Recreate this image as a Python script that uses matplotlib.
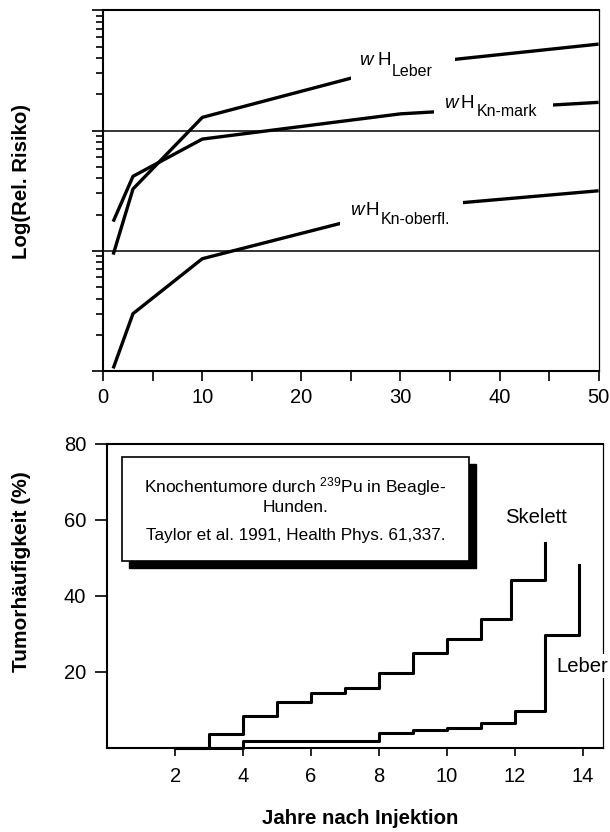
import matplotlib
matplotlib.use("Agg")
import matplotlib.pyplot as plt
from matplotlib.patches import Rectangle
from matplotlib.ticker import LogLocator, MultipleLocator, NullFormatter, FixedLocator

plt.rcParams["font.family"] = ["Liberation Sans", "DejaVu Sans"]
plt.rcParams["mathtext.fontset"] = "custom"
plt.rcParams["mathtext.rm"] = "Liberation Sans"
plt.rcParams["mathtext.it"] = "Liberation Sans:italic"

# top panel: relative risk vs. years (log axis)
years = [1, 3, 10, 30, 50]
risk_leber = [9.3, 32.7, 129, 351, 525]
risk_kn_mark = [17.5, 41.7, 85.1, 138, 172]
risk_kn_oberfl = [1.05, 3.0, 8.6, 22.7, 31.6]

# bottom panel: tumour frequency (%) steps
skelett_years = [2, 3, 4, 5, 6, 7, 8, 9, 10, 11, 11.9, 12.9]
skelett_pct = [0, 3.6, 8.5, 12.0, 14.4, 15.7, 19.7, 24.9, 28.7, 33.9, 44.2, 53.9]
leber_years = [2, 4, 8, 9, 10, 11, 12, 12.9, 13.9]
leber_pct = [0, 1.9, 3.9, 4.7, 5.3, 6.5, 9.7, 29.6, 48.2]

fig = plt.figure(figsize=(6.1, 8.32), dpi=100)

# ---------------- top panel ----------------
ax1 = fig.add_axes([0.1693, 0.5541, 0.812, 0.4333])
ax1.set_yscale("log")
ax1.set_ylim(1, 1000)
ax1.set_xlim(0, 50)

for ys in (risk_leber, risk_kn_mark, risk_kn_oberfl):
    ax1.plot(years, ys, color="black", lw=2.4, solid_capstyle="butt", zorder=3)

ax1.yaxis.set_major_locator(LogLocator(base=10, numticks=10))
ax1.yaxis.set_minor_locator(LogLocator(base=10, subs=range(2, 10), numticks=10))
ax1.yaxis.set_major_formatter(NullFormatter())
ax1.yaxis.set_minor_formatter(NullFormatter())
ax1.xaxis.set_major_locator(MultipleLocator(10))
ax1.xaxis.set_minor_locator(MultipleLocator(5))
ax1.tick_params(axis="y", which="major", direction="out", length=8, width=1.2)
ax1.tick_params(axis="y", which="minor", direction="out", length=5, width=1.2)
ax1.tick_params(axis="x", which="both", direction="out", length=7, width=1.2,
                labelsize=14.5, pad=5)
ax1.grid(True, which="major", axis="y", color="black", lw=1.1)
for side in ("left", "top", "bottom"):
    ax1.spines[side].set_linewidth(1.5)
ax1.spines["right"].set_linewidth(0.9)

# white gaps behind labels
gaps = [(25, 35.5, 200, 560), (33.4, 45.4, 120, 220), (23.9, 36.3, 12.6, 35.5)]
for x0, x1, y0, y1 in gaps:
    ax1.add_patch(Rectangle((x0, y0), x1 - x0, y1 - y0, facecolor="white",
                            edgecolor="none", zorder=4))

labels = [
    (25.78, 355, 27.73, 29.14, 284, "Leber"),
    (34.43, 154.5, 36.09, 37.66, 132, "Kn-mark"),
    (24.87, 19.95, 26.49, 28.06, 16.6, "Kn-oberfl."),
]
for xw, yb, xh, xs, ys, sub in labels:
    ax1.text(xw, yb, "w", style="italic", fontsize=13.5, va="baseline", zorder=5)
    ax1.text(xh, yb, "H", fontsize=13.5, va="baseline", zorder=5)
    ax1.text(xs, ys, sub, fontsize=11.5, va="baseline", zorder=5)

fig.text(0.035, 0.7816, "Log(Rel. Risiko)", rotation=90, fontsize=14.7,
         fontweight="bold", ha="center", va="center")

# ---------------- bottom panel ----------------
ax2 = fig.add_axes([0.1757, 0.101, 0.8136, 0.3654])
ax2.set_xlim(0, 14.61)
ax2.set_ylim(0, 80)

ax2.plot(skelett_years, skelett_pct, drawstyle="steps-post", color="black",
         lw=2.2, clip_on=False, zorder=3)
ax2.plot(leber_years, leber_pct, drawstyle="steps-post", color="black",
         lw=2.2, clip_on=False, zorder=3)

ax2.xaxis.set_major_locator(FixedLocator([2, 4, 6, 8, 10, 12, 14]))
ax2.yaxis.set_major_locator(FixedLocator([20, 40, 60, 80]))
ax2.tick_params(axis="x", direction="out", length=6, width=1.2,
                labelsize=14.5, pad=8)
ax2.tick_params(axis="y", direction="out", length=9, width=1.2,
                labelsize=14.5, pad=6)
for side in ("left", "top", "bottom"):
    ax2.spines[side].set_linewidth(1.5)
ax2.spines["right"].set_linewidth(0.9)

# note box with shadow
bx0, bx1, by0, by1 = 0.0298, 0.7288, 0.615, 0.958
ax2.add_patch(Rectangle((bx0 + 0.0135, by0 - 0.024), bx1 - bx0, by1 - by0,
                        transform=ax2.transAxes, facecolor="black",
                        edgecolor="black", zorder=5))
ax2.add_patch(Rectangle((bx0, by0), bx1 - bx0, by1 - by0,
                        transform=ax2.transAxes, facecolor="white",
                        edgecolor="black", lw=1.2, zorder=6))
cx = (bx0 + bx1) / 2
ax2.text(cx, 0.841, r"Knochentumore durch $^{239}$Pu in Beagle-",
         transform=ax2.transAxes, ha="center", va="baseline", fontsize=12.5,
         zorder=7)
ax2.text(cx, 0.777, "Hunden.", transform=ax2.transAxes, ha="center",
         va="baseline", fontsize=12.5, zorder=7)
ax2.text(cx, 0.684, "Taylor et al. 1991, Health Phys. 61,337.",
         transform=ax2.transAxes, ha="center", va="baseline", fontsize=12.3,
         zorder=7)

ax2.text(11.72, 59.1, "Skelett", fontsize=14.6, va="baseline")
ax2.text(13.22, 20.1, "Leber", fontsize=14.6, va="baseline", zorder=8,
         bbox=dict(facecolor="white", edgecolor="none", pad=2))

fig.text(0.036, 0.3129, "Tumorhäufigkeit (%)", rotation=90, fontsize=15,
         fontweight="bold", ha="center", va="center")
fig.text(0.5911, 0.0168, "Jahre nach Injektion", fontsize=14.7,
         fontweight="bold", ha="center", va="center")

fig.savefig("out.png", dpi=100)
